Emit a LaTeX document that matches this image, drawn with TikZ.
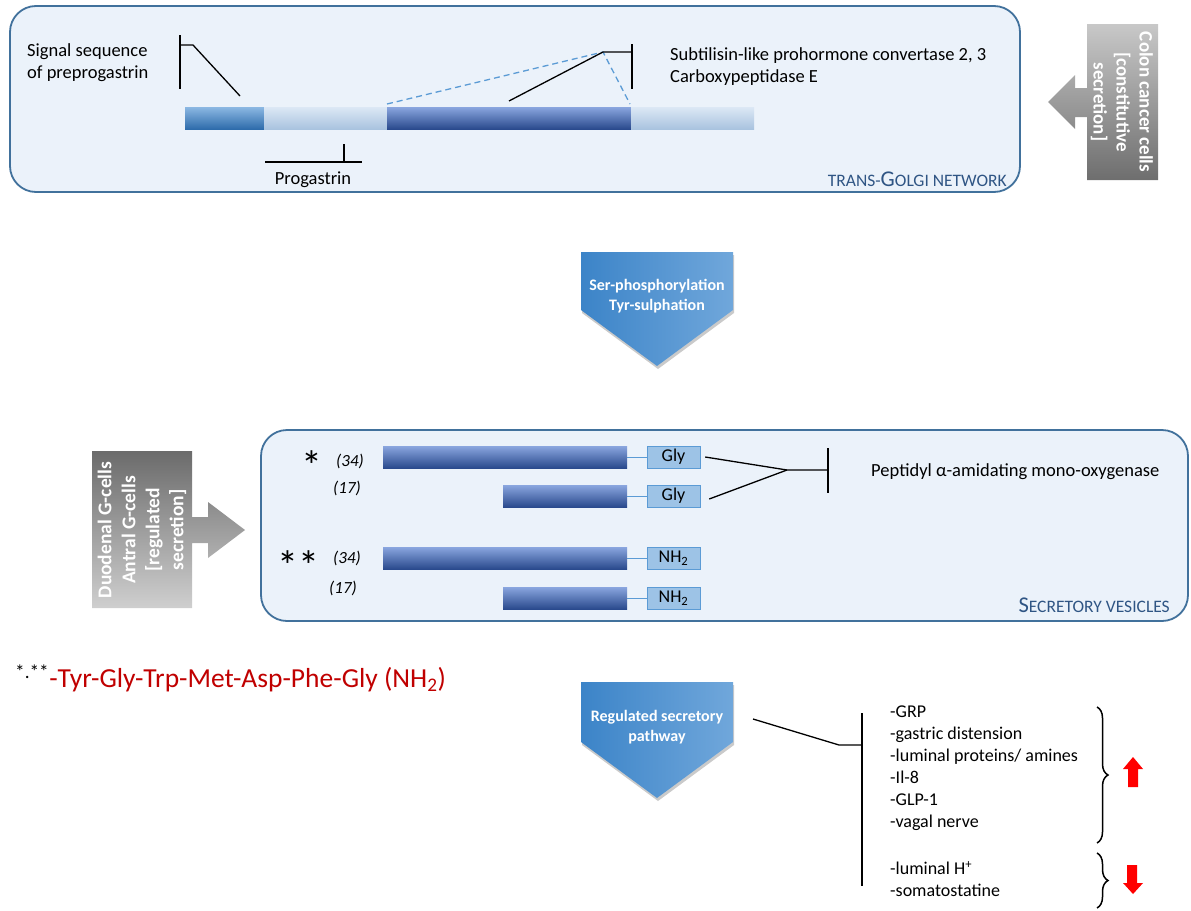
\documentclass[tikz,border=0pt]{standalone}
\usepackage{fontspec}
\setmainfont{Carlito}
\usetikzlibrary{shadows,decorations.pathreplacing,calc}

\definecolor{boxline}{HTML}{41719C}
\definecolor{boxfill}{HTML}{EBF2FA}
\definecolor{titleblue}{HTML}{2F5584}
\definecolor{sigtop}{HTML}{8CB8E3}
\definecolor{sigbot}{HTML}{2E6CAB}
\definecolor{paletop}{HTML}{DCE8F5}
\definecolor{palebot}{HTML}{A9C3DF}
\definecolor{coretop}{HTML}{8AA6DF}
\definecolor{corebot}{HTML}{2A4A8D}
\definecolor{endfill}{HTML}{9DC3E6}
\definecolor{endline}{HTML}{5B9BD5}
\definecolor{cutblue}{HTML}{5B9BD5}
\definecolor{steplft}{HTML}{3C84C8}
\definecolor{steprgt}{HTML}{70A7DB}
\definecolor{coltop}{HTML}{C8C8C8}
\definecolor{colbot}{HTML}{6E6E6E}
\definecolor{gctop}{HTML}{6B6B6B}
\definecolor{gcbot}{HTML}{CFCFCF}
\definecolor{pepred}{HTML}{C00000}

\tikzset{
    compartment/.style = {draw=boxline, line width=1.8pt, fill=boxfill,
        rounded corners=26pt},
    seg/.style = {anchor=west, inner sep=0pt, outer sep=0pt,
        minimum height=22pt},
    signalseg/.style = {seg, top color=sigtop, bottom color=sigbot},
    paleseg/.style = {seg, top color=paletop, bottom color=palebot},
    coreseg/.style = {seg, top color=coretop, bottom color=corebot},
    endbox/.style = {draw=endline, fill=endfill, minimum width=53pt,
        minimum height=22pt, inner sep=0pt, font=\fontsize{18}{20}\selectfont},
    joinline/.style = {draw=endline, line width=1pt},
    tbar/.style = {draw, line width=1.3pt},
    cutline/.style = {draw=cutblue, line width=1.3pt, dash pattern=on 6pt off 4pt},
    txt/.style = {inner sep=0pt, align=left, font=\fontsize{18.5}{22}\selectfont},
    listtxt/.style = {inner sep=0pt, align=left, font=\fontsize{18}{22}\selectfont},
    comptitle/.style = {inner sep=0pt, text=titleblue},
    lentxt/.style = {inner sep=0pt, font=\fontsize{17}{20}\selectfont\itshape},
    starmark/.style = {inner sep=0pt, font=\fontsize{42}{42}\selectfont},
    steparrow/.style = {left color=steplft, right color=steprgt,
        drop shadow={shadow xshift=1pt, shadow yshift=-3pt, opacity=.35, fill=black!60}},
    steptxt/.style = {inner sep=0pt, align=center, text=white,
        font=\fontsize{16}{20}\selectfont\bfseries},
    celltxt/.style = {inner sep=0pt, align=center, text=white,
        font=\fontsize{19}{23}\selectfont\bfseries},
    bracemark/.style = {draw, line width=1.5pt, decorate,
        decoration={brace, amplitude=11pt}},
}
\newcommand{\smallcap}[1]{{\fontsize{17.5}{20}\selectfont\MakeUppercase{#1}}}
\newcommand{\capinit}[1]{{\fontsize{22.5}{24}\selectfont #1}}

\begin{document}
\begin{tikzpicture}[x=1pt, y=-1pt]
\useasboundingbox (0,0) rectangle (1191,910);

% trans-Golgi network
\draw[compartment] (10,6) rectangle (1020,192);
\node[comptitle, anchor=base east] (tgn) at (1007,186)
    {\smallcap{trans-}\capinit{G}\smallcap{olgi network}};

\node[signalseg, minimum width=79pt] (sig) at (185,118) {};
\node[paleseg, minimum width=123pt] (pro1) at (sig.east) {};
\node[coreseg, minimum width=244pt] (core) at (pro1.east) {};
\node[paleseg, minimum width=123pt] (pro2) at (core.east) {};

% signal sequence
\coordinate (sigtop) at (180,35);
\coordinate (sigbot) at (180,89);
\coordinate (sigmid) at (180,45);
\coordinate (sigknee) at (193,45);
\coordinate (sigtip) at (240,96);
\draw[tbar] (sigtop) -- (sigbot);
\draw[tbar] (sigmid) -- (sigknee) -- (sigtip);
\node[txt, anchor=west] (sigtxt) at (27,63) {Signal sequence\\of preprogastrin};

% progastrin
\coordinate (protop) at (344,144);
\coordinate (promid) at (344,162);
\coordinate (proleft) at (265,162);
\coordinate (proright) at (362,162);
\draw[tbar] (protop) -- (promid);
\draw[tbar] (proleft) -- (proright);
\node[txt] (protxt) at (313,180) {Progastrin};

% convertases
\coordinate (pctop) at (632,44);
\coordinate (pcbot) at (632,89);
\coordinate (pcmid) at (632,52);
\coordinate (pcknee) at (603,52);
\coordinate (pctip) at (509,101);
\coordinate (cutleft) at (387,104);
\coordinate (cutright) at (630,104);
\draw[cutline] (cutleft) -- (pcknee) -- (cutright);
\draw[tbar] (pctop) -- (pcbot);
\draw[tbar] (pctip) -- (pcknee) -- (pcmid);
\node[txt, anchor=west] (pctxt) at (670,67)
    {Subtilisin-like prohormone convertase 2, 3\\Carboxypeptidase E};

% colon cancer cells
\path[shade, top color=coltop, bottom color=colbot]
    (1087,24) -- (1158,24) -- (1158,180) -- (1087,180) -- (1087,117)
    -- (1075,117) -- (1075,129) -- (1048,102) -- (1075,75) -- (1075,88)
    -- (1087,88) -- cycle;
\node[celltxt, rotate=-90] (colon) at (1122,102)
    {Colon cancer cells\\{[constitutive}\\secretion]};

% processing step
\path[steparrow] (581,252) -- (733,252) -- (733,310) -- (657,366) -- (581,310) -- cycle;
\node[steptxt] (ser) at (657,296) {Ser-phosphorylation\\Tyr-sulphation};

% secretory vesicles
\draw[compartment] (261,430) rectangle (1188,621);
\node[comptitle, anchor=base east] (sv) at (1170,612)
    {\capinit{S}\smallcap{ecretory vesicles}};

\node[coreseg, minimum width=244pt] (g34) at (383,457) {};
\node[endbox] (gly34) at (673.5,457) {Gly};
\node[coreseg, minimum width=124pt] (g17) at (503,496) {};
\node[endbox] (gly17) at (673.5,496) {Gly};
\node[coreseg, minimum width=244pt] (a34) at (383,558) {};
\node[endbox] (nh34) at (673.5,558) {NH\textsubscript{2}};
\node[coreseg, minimum width=124pt] (a17) at (503,598) {};
\node[endbox] (nh17) at (673.5,598) {NH\textsubscript{2}};
\draw[joinline] (g34.east) -- (gly34.west);
\draw[joinline] (g17.east) -- (gly17.west);
\draw[joinline] (a34.east) -- (nh34.west);
\draw[joinline] (a17.east) -- (nh17.west);

\node[starmark] (s1) at (312,466) {*};
\node[lentxt] (n34a) at (350,461) {(34)};
\node[lentxt] (n17a) at (347,488) {(17)};
\node[starmark] (s2) at (298,566) {**};
\node[lentxt] (n34b) at (347,558) {(34)};
\node[lentxt] (n17b) at (343,588) {(17)};

% amidating enzyme
\coordinate (pamfork) at (787,470);
\coordinate (pammid) at (828,470);
\coordinate (pamtop) at (828,448);
\coordinate (pambot) at (828,493);
\draw[tbar] ([xshift=5pt]gly34.east) -- (pamfork) -- (pammid);
\draw[tbar] ([xshift=9pt,yshift=-3pt]gly17.east) -- (pamfork);
\draw[tbar] (pamtop) -- (pambot);
\node[txt, anchor=west] (pam) at (871,472) {Peptidyl α-amidating mono-oxygenase};

% G-cells
\path[shade, top color=gctop, bottom color=gcbot]
    (92,451) -- (192,451) -- (192,517) -- (208,517) -- (208,502) -- (245,530)
    -- (208,558) -- (208,543) -- (192,543) -- (192,608) -- (92,608) -- cycle;
\node[celltxt, font=\fontsize{19.5}{24}\selectfont\bfseries, rotate=90] (gcell)
    at (142,530) {Duodenal G-cells\\Antral G-cells\\{[regulated}\\secretion]};

% C-terminal sequence
\node[inner sep=0pt, anchor=west, font=\fontsize{27.5}{30}\selectfont] (pep) at (15,678)
    {\textsuperscript{*.**}\textcolor{pepred}{-Tyr-Gly-Trp-Met-Asp-Phe-Gly (NH\textsubscript{2})}};

% regulated secretion
\path[steparrow] (581,682) -- (733,682) -- (733,742) -- (657,798) -- (581,742) -- cycle;
\node[steptxt] (rsp) at (657,727) {Regulated secretory\\pathway};

\coordinate (rspout) at (753,719);
\coordinate (rspknee) at (839,745);
\coordinate (stimmid) at (862,745);
\coordinate (stimtop) at (862,713);
\coordinate (stimbot) at (862,886);
\draw[tbar] (rspout) -- (rspknee) -- (stimmid);
\draw[tbar] (stimtop) -- (stimbot);

\node[listtxt, anchor=west] (upreg) at (890,768)
    {-GRP\\-gastric distension\\-luminal proteins/ amines\\-Il-8\\-GLP-1\\-vagal nerve};
\node[listtxt, anchor=west] (downreg) at (890,879)
    {-luminal H\textsuperscript{+}\\-somatostatine};

\coordinate (upbtop) at (1097,707);
\coordinate (upbbot) at (1097,843);
\coordinate (dnbtop) at (1097,853);
\coordinate (dnbbot) at (1097,908);
\draw[bracemark] (upbtop) -- (upbbot);
\draw[bracemark] (dnbtop) -- (dnbbot);

\fill[red] (1133,757) -- (1143,769) -- (1138,769) -- (1138,787) -- (1128,787)
    -- (1128,769) -- (1123,769) -- cycle;
\fill[red] (1127,865) -- (1137,865) -- (1137,883) -- (1143,883) -- (1133,894)
    -- (1123,883) -- (1127,883) -- cycle;
\end{tikzpicture}
\end{document}
